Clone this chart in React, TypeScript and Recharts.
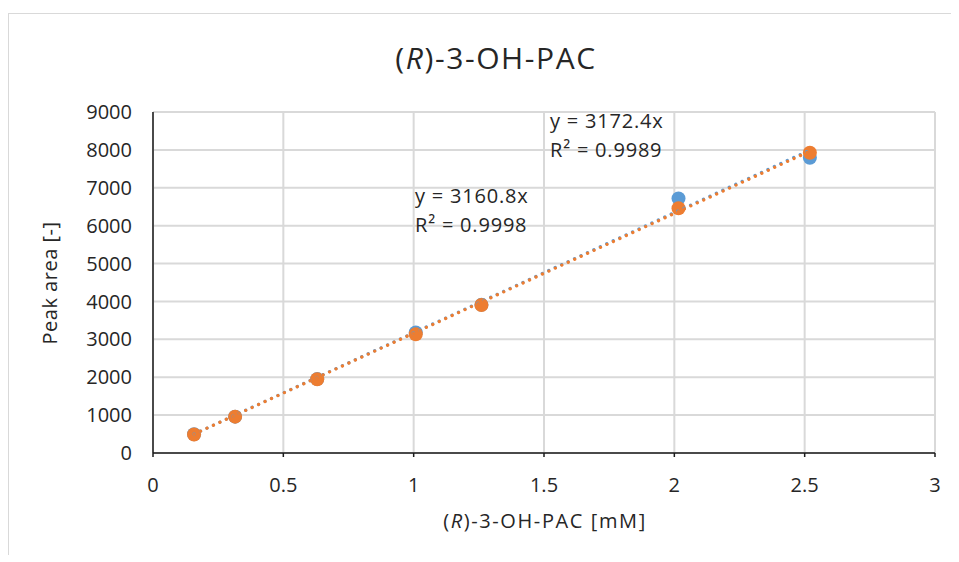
import React from 'react';
import { ScatterChart, Scatter, XAxis, YAxis, CartesianGrid } from 'recharts';

// calibration standards (mM) and peak areas for the two runs
const concentrations = [0.1575, 0.315, 0.63, 1.008, 1.26, 2.016, 2.52];
const areasBlue = [495, 960, 1950, 3180, 3910, 6720, 7794];
const areasOrange = [490, 960, 1945, 3135, 3905, 6460, 7926];

// linear fits forced through zero, as printed on the chart
const slopeBlue = 3172.4;
const slopeOrange = 3160.8;
const r2Blue = '0.9989';
const r2Orange = '0.9998';

const xTicks = [0, 0.5, 1, 1.5, 2, 2.5, 3];
const yTicks = [0, 1000, 2000, 3000, 4000, 5000, 6000, 7000, 8000, 9000];

const BLUE = '#5B9BD5';
const ORANGE = '#ED7D31';
const TEXT = '#262626';
const FONT = '"Open Sans", sans-serif';

const toPoints = (ys: number[]) => concentrations.map((x, i) => ({ x, y: ys[i] }));

const trendLine = (slope: number) => {
  const lo = Math.min(...concentrations);
  const hi = Math.max(...concentrations);
  return [
    { x: lo, y: slope * lo },
    { x: hi, y: slope * hi },
  ];
};

const marker = (color: string) => (props: any) => (
  <circle cx={props.cx} cy={props.cy} r={7} fill={color} />
);

const noMarker = () => <g />;

const dotted = (color: string) => ({
  stroke: color,
  strokeWidth: 3.2,
  strokeDasharray: '0.1 7',
  strokeLinecap: 'round' as const,
});

const tickStyle = { fill: TEXT, fontSize: 20, fontFamily: FONT };

export default function App() {
  return (
    <div
      style={{
        position: 'relative',
        marginTop: 5,
        width: 950,
        height: 541,
        borderTop: '1px solid #d9d9d9',
        borderLeft: '1px solid #d9d9d9',
        background: '#fff',
      }}
    >
      <ScatterChart width={950} height={541} margin={{ top: 98, right: 24, bottom: 0, left: 0 }}>
        <CartesianGrid stroke="#d9d9d9" strokeWidth={2} />
        <XAxis
          type="number"
          dataKey="x"
          domain={[0, 3]}
          ticks={xTicks}
          height={102}
          tick={tickStyle}
          tickSize={4}
          tickMargin={21}
          tickLine={{ stroke: '#1a1a1a', strokeWidth: 1.5 }}
          axisLine={{ stroke: '#1a1a1a', strokeWidth: 1.5 }}
        />
        <YAxis
          type="number"
          dataKey="y"
          domain={[0, 9000]}
          ticks={yTicks}
          width={144}
          tick={tickStyle}
          tickSize={0}
          tickMargin={21}
          tickLine={false}
          axisLine={{ stroke: '#1a1a1a', strokeWidth: 1.5 }}
        />
        <Scatter data={toPoints(areasBlue)} shape={marker(BLUE)} isAnimationActive={false} />
        <Scatter data={toPoints(areasOrange)} shape={marker(ORANGE)} isAnimationActive={false} />
        <Scatter data={trendLine(slopeBlue)} line={dotted(BLUE)} shape={noMarker} isAnimationActive={false} />
        <Scatter data={trendLine(slopeOrange)} line={dotted(ORANGE)} shape={noMarker} isAnimationActive={false} />
      </ScatterChart>

      <svg
        width={950}
        height={541}
        style={{ position: 'absolute', left: 0, top: 0, pointerEvents: 'none' }}
        fontFamily={FONT}
        fill={TEXT}
      >
        <text x={487} y={55} textAnchor="middle" fontSize={30} letterSpacing={1.6}>
          (<tspan fontStyle="italic">R</tspan>)-3-OH-PAC
        </text>
        <text x={536} y={514} textAnchor="middle" fontSize={20} letterSpacing={1.6}>
          (<tspan fontStyle="italic">R</tspan>)-3-OH-PAC [mM]
        </text>
        <text
          x={48}
          y={269}
          textAnchor="middle"
          fontSize={20}
          letterSpacing={0.5}
          transform="rotate(-90 48 269)"
        >
          Peak area [-]
        </text>
        <text x={541} y={114} fontSize={20} letterSpacing={0.8}>{`y = ${slopeBlue}x`}</text>
        <text x={541} y={143} fontSize={20} letterSpacing={0.8}>{`R² = ${r2Blue}`}</text>
        <text x={406} y={189} fontSize={20} letterSpacing={0.8}>{`y = ${slopeOrange}x`}</text>
        <text x={406} y={218} fontSize={20} letterSpacing={0.8}>{`R² = ${r2Orange}`}</text>
      </svg>
    </div>
  );
}
